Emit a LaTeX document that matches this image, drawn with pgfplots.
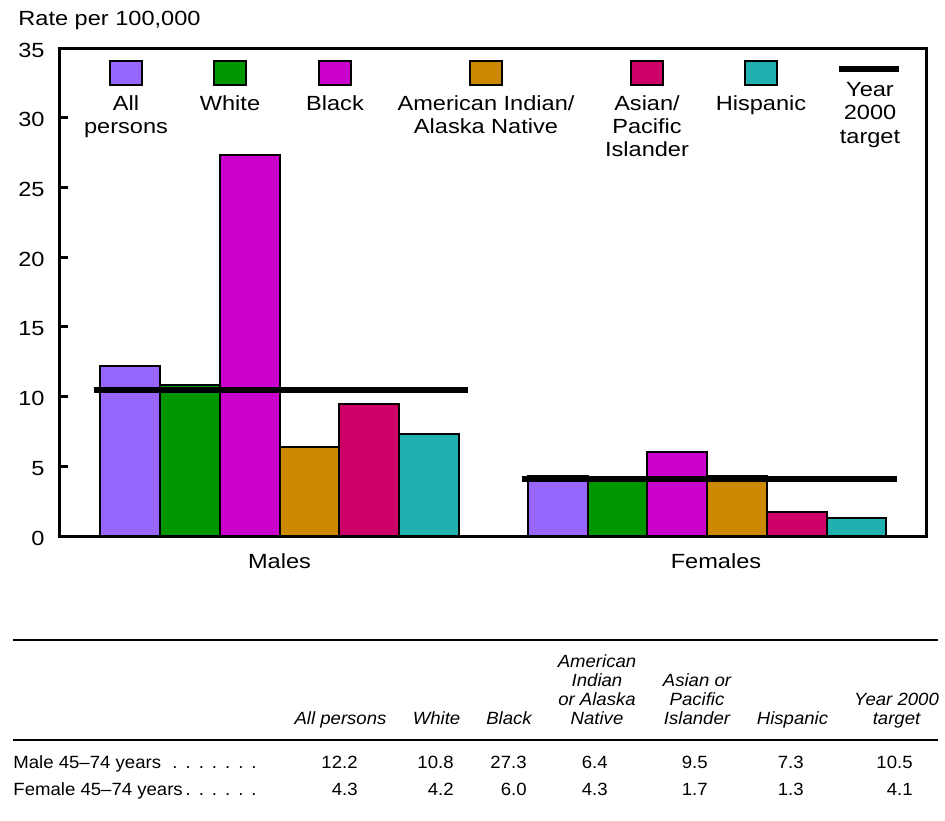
\documentclass[border=0pt]{standalone}
\usepackage{fontspec}
\setmainfont{Liberation Sans}[FakeStretch=1.15]
\newfontfamily\tabfont{Liberation Sans}[FakeStretch=1.05, Ligatures=TeX]
\usepackage{pgfplots}
\pgfplotsset{compat=1.18}
\definecolor{cAll}{RGB}{150,102,255}
\definecolor{cWhite}{RGB}{0,150,0}
\definecolor{cBlack}{RGB}{204,0,204}
\definecolor{cAIAN}{RGB}{204,136,0}
\definecolor{cAPI}{RGB}{204,0,102}
\definecolor{cHisp}{RGB}{32,176,176}
\newcommand\cf{\fontsize{10.25}{11.5}\selectfont}
\newcommand\tf{\tabfont\fontsize{8.85}{9.5}\selectfont}
\begin{document}
\begin{tikzpicture}
\begin{axis}[
  at={(0,0)}, anchor=south west,
  scale only axis, width=433pt, height=244pt,
  xmin=60, xmax=926, ymin=0, ymax=35,
  axis line style={line width=1.5pt},
  ytick={0,5,...,35}, ytick pos=left, tick align=inside,
  major tick length=4pt,
  ytick style={line width=1.5pt, black},
  xtick={279.5,716}, xticklabels={Males,Females},
  xtick style={draw=none},
  /pgf/number format/assume math mode=true,
  ticklabel style={font=\cf},
  xticklabel style={anchor=base, yshift=-16pt, inner sep=0pt},
  yticklabel style={anchor=east, inner sep=0pt, xshift=-7.5pt, yshift=-1pt},
  every axis plot/.append style={ybar, bar width=59.7, bar shift=0pt, draw=black, line width=1pt},
]
% All persons
\addplot[fill=cAll] coordinates {(130.35,12.2) (557.85,4.3)};
% White
\addplot[fill=cWhite] coordinates {(190.05,10.8) (617.55,4.2)};
% Black
\addplot[fill=cBlack] coordinates {(249.75,27.3) (677.25,6.0)};
% American Indian / Alaska Native
\addplot[fill=cAIAN] coordinates {(309.45,6.4) (736.95,4.3)};
% Asian / Pacific Islander
\addplot[fill=cAPI] coordinates {(369.15,9.5) (796.65,1.7)};
% Hispanic
\addplot[fill=cHisp] coordinates {(428.85,7.3) (856.35,1.3)};
% Year 2000 targets
\addplot[sharp plot, black, line width=3pt] coordinates {(94,10.5) (468,10.5)};
\addplot[sharp plot, black, line width=3pt] coordinates {(522,4.1) (897,4.1)};
\end{axis}
\begin{scope}[x=0.5pt, y=-0.5pt, shift={(-60,-536)}, every node/.style={inner sep=0pt}]
\path (0,0) rectangle (945,820);
\node[anchor=base west, font=\cf] at (18,26) {Rate per 100,000};
% legend
\begin{scope}[line width=1pt]
\filldraw[fill=cAll] (110,61) rectangle (142,85);
\filldraw[fill=cWhite] (214,61) rectangle (246,85);
\filldraw[fill=cBlack] (319,61) rectangle (351,85);
\filldraw[fill=cAIAN] (470,61) rectangle (502,85);
\filldraw[fill=cAPI] (631,61) rectangle (663,85);
\filldraw[fill=cHisp] (745,61) rectangle (777,85);
\end{scope}
\draw[line width=3pt] (839,69) -- (899,69);
\begin{scope}[every node/.style={anchor=base, inner sep=0pt, font=\cf}]
\node at (126,110) {All};
\node at (126,133) {persons};
\node at (230,110) {White};
\node at (335,110) {Black};
\node at (486,110) {American Indian/};
\node at (486,133) {Alaska Native};
\node at (647,110) {Asian/};
\node at (647,133) {Pacific};
\node at (647,156) {Islander};
\node at (761,110) {Hispanic};
\node at (870,97) {Year};
\node at (870,120) {2000};
\node at (870,143) {target};
\end{scope}
% table
\draw[line width=0.75pt] (13,640) -- (938,640);
\draw[line width=0.75pt] (13,740) -- (938,740);
\begin{scope}[every node/.style={anchor=base, inner sep=0pt, font=\tf\itshape}]
\node at (340.5,724) {All persons};
\node at (436.5,724) {White};
\node at (509,724) {Black};
\node at (597,667) {American};
\node at (597,686) {Indian};
\node at (597,705) {or Alaska};
\node at (597,724) {Native};
\node at (697,686) {Asian or};
\node at (697,705) {Pacific};
\node at (697,724) {Islander};
\node at (792.5,724) {Hispanic};
\node at (896.5,705) {Year 2000};
\node at (896.5,724) {target};
\end{scope}
\begin{scope}[every node/.style={inner sep=0pt, font=\tf}]
\node[anchor=base west] at (13,768) {Male 45–74 years};
\node[anchor=base west] at (13,795) {Female 45–74 years};
\node[anchor=base east] at (257,768) {.\hspace{4pt}.\hspace{4pt}.\hspace{4pt}.\hspace{4pt}.\hspace{4pt}.\hspace{4pt}.};
\node[anchor=base east] at (257,795) {.\hspace{4pt}.\hspace{4pt}.\hspace{4pt}.\hspace{4pt}.\hspace{4pt}.};
\node[anchor=base east] at (358,768) {12.2};
\node[anchor=base east] at (454,768) {10.8};
\node[anchor=base east] at (527,768) {27.3};
\node[anchor=base east] at (608,768) {6.4};
\node[anchor=base east] at (708,768) {9.5};
\node[anchor=base east] at (804,768) {7.3};
\node[anchor=base east] at (913,768) {10.5};
\node[anchor=base east] at (358,795) {4.3};
\node[anchor=base east] at (454,795) {4.2};
\node[anchor=base east] at (527,795) {6.0};
\node[anchor=base east] at (608,795) {4.3};
\node[anchor=base east] at (708,795) {1.7};
\node[anchor=base east] at (804,795) {1.3};
\node[anchor=base east] at (913,795) {4.1};
\end{scope}
\end{scope}
\end{tikzpicture}
\end{document}
